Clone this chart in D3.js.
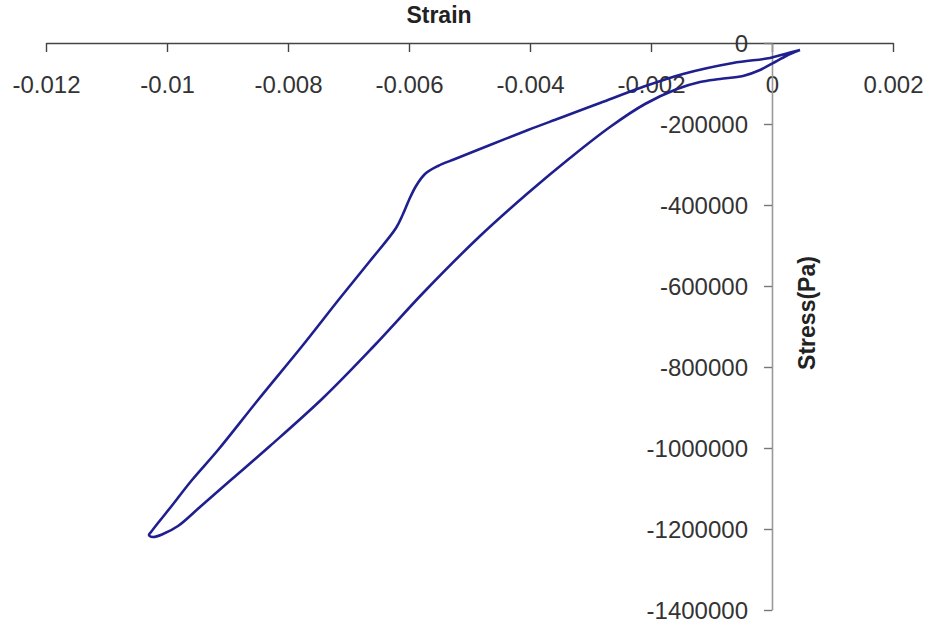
<!DOCTYPE html>
<html><head><meta charset="utf-8">
<script src="https://cdn.jsdelivr.net/npm/d3@7"></script>
<style>body{margin:0;background:#fff}svg{display:block}</style>
</head><body>
<svg id="c" width="928" height="628"></svg>
<script>
const xTicks = [-0.012, -0.01, -0.008, -0.006, -0.004, -0.002, 0, 0.002];
const xTickLabels = ["-0.012", "-0.01", "-0.008", "-0.006", "-0.004", "-0.002", "0", "0.002"];
const yTicks = [0, -200000, -400000, -600000, -800000, -1000000, -1200000, -1400000];
const yTickLabels = ["0", "-200000", "-400000", "-600000", "-800000", "-1000000", "-1200000", "-1400000"];
// loop: upper (loading) branch from origin tip to minimum
const strainUpper = [0.000463, 0.000215, -0.000033, -0.000645, -0.001471, -0.002182, -0.002843, -0.003504, -0.004033, -0.004661, -0.005240, -0.005521, -0.005736, -0.005884, -0.006000, -0.006099, -0.006215, -0.006645, -0.007140, -0.007752, -0.008496, -0.009157, -0.009587, -0.009950, -0.010149, -0.010264, -0.010298];
const stressUpper = [-17284, -27160, -37037, -49383, -76543, -111111, -148148, -185185, -214815, -251852, -286420, -303704, -323457, -353086, -387654, -422222, -456790, -538272, -629630, -745679, -881481, -1004938, -1079012, -1148148, -1185185, -1207407, -1214815];
// lower (unloading) branch from minimum back to tip
const strainLower = [-0.010231, -0.010066, -0.009818, -0.009455, -0.008926, -0.008298, -0.007421, -0.006595, -0.005736, -0.004826, -0.004033, -0.003339, -0.002678, -0.002099, -0.001570, -0.001190, -0.000860, -0.000479, -0.000198, 0.00005, 0.000298, 0.000463];
const stressLower = [-1219753, -1212346, -1192593, -1145679, -1076543, -995062, -876543, -750617, -612346, -476543, -370370, -283951, -207407, -150617, -113580, -96296, -88889, -81481, -66667, -46914, -27160, -17284];

const svg = d3.select("#c");
const x = d3.scaleLinear().domain([-0.012, 0.002]).range([46, 893]);
const y = d3.scaleLinear().domain([-1400000, 0]).range([610, 43]);
const font = "'Liberation Sans', Arial, sans-serif";

// x axis (at stress = 0)
const gx = svg.append("g").attr("transform", `translate(0,${y(0)})`)
  .call(d3.axisBottom(x).tickValues(xTicks).tickFormat((d, i) => xTickLabels[i]).tickSize(9).tickSizeOuter(0));
gx.select(".domain").attr("stroke", "#444").attr("stroke-width", 1.6);
gx.selectAll(".tick line").attr("stroke", "#444").attr("stroke-width", 1.4);
gx.selectAll(".tick text").attr("font-family", font).attr("font-size", 24).attr("fill", "#333")
  .attr("y", 50).attr("dy", 0);

// y axis (at strain = 0)
const gy = svg.append("g").attr("transform", `translate(${x(0)},0)`)
  .call(d3.axisLeft(y).tickValues(yTicks).tickFormat((d, i) => yTickLabels[i]).tickSize(8).tickSizeOuter(0));
gy.select(".domain").attr("stroke", "#999").attr("stroke-width", 1.6);
gy.selectAll(".tick line").attr("stroke", "#777").attr("stroke-width", 1.4);
gy.selectAll(".tick text").attr("font-family", font).attr("font-size", 24).attr("fill", "#333")
  .attr("x", -24).attr("dy", "0.36em");

// titles
svg.append("text").attr("x", 439).attr("y", 23).attr("text-anchor", "middle")
  .attr("font-family", font).attr("font-weight", "bold").attr("font-size", 23).attr("fill", "#222").text("Strain");
svg.append("text").attr("transform", "translate(815,313) rotate(-90)").attr("text-anchor", "middle")
  .attr("font-family", font).attr("font-weight", "bold").attr("font-size", 23).attr("fill", "#222").text("Stress(Pa)");

// loop
const pts = strainUpper.map((s, i) => [s, stressUpper[i]])
  .concat(strainLower.map((s, i) => [s, stressLower[i]]));
const line = d3.line().x(d => x(d[0])).y(d => y(d[1])).curve(d3.curveCatmullRom.alpha(0.5));
svg.append("path").attr("d", line(pts)).attr("fill", "none")
  .attr("stroke", "#1f1f8f").attr("stroke-width", 2.6).attr("stroke-linejoin", "round");
</script>
</body></html>
